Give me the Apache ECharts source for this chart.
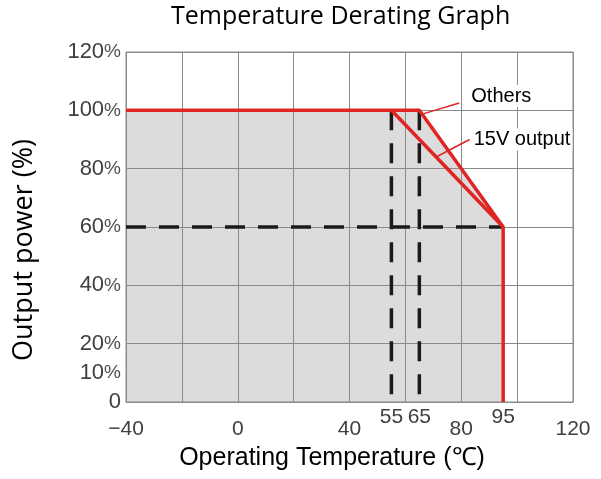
<!DOCTYPE html>
<html><head><meta charset="utf-8">
<script src="https://cdn.jsdelivr.net/npm/echarts@6/dist/echarts.min.js"></script>
<style>html,body{margin:0;padding:0;background:#fff}#c{width:601px;height:479px}</style>
</head><body><div id="c"></div>
<script>
const xTicksMain = [-40, 0, 40, 80, 120];
const xTicksMarked = [55, 65, 95];
const yTicks = [0, 10, 20, 40, 60, 80, 100, 120];
const othersCurve = [[-40, 100], [65, 100], [95, 60], [95, 0]];
const v15Curve = [[55, 100], [95, 60]];
const refLine60 = [[-40, 60], [95, 60]];
const refLine55 = [[55, 100], [55, 0]];
const refLine65 = [[65, 100], [65, 0]];
const othersLeader = [[66, 98.7], [79.3, 102.5]];
const v15Leader = [[71, 84], [83, 90]];

const RED = '#e02424';
const GRID = '#8a8a8a';
const chart = echarts.init(document.getElementById('c'), null, {renderer: 'canvas'});

function lineSeries(data, style, z, extra) {
  return Object.assign({type: 'line', data: data, symbol: 'none', lineStyle: style, z: z, silent: true, animation: false}, extra || {});
}

chart.setOption({
  animation: false,
  title: {
    text: 'Temperature Derating Graph', left: 171, top: 4, padding: 0,
    textStyle: {fontFamily: 'Open Sans', fontSize: 25, fontWeight: 'normal', color: '#000'}
  },
  grid: {left: 126, right: 28, top: 52, bottom: 77, show: true, borderColor: GRID, borderWidth: 1, z: 3},
  xAxis: [{
    type: 'value', min: -40, max: 120, interval: 20, z: 3,
    axisLine: {show: true, onZero: false, lineStyle: {color: GRID, width: 1}},
    axisTick: {show: false},
    splitLine: {show: true, lineStyle: {color: GRID, width: 1}},
    axisLabel: {customValues: xTicksMain, margin: 17, fontFamily: 'Liberation Sans', fontSize: 21, color: '#404040',
      formatter: v => v < 0 ? '\u2212' + Math.abs(v) : String(v)},
    name: 'Operating Temperature (\u2103)', nameLocation: 'middle', nameGap: 44,
    nameTextStyle: {fontFamily: 'Liberation Sans', fontSize: 25, color: '#000', padding: [0, 35, 0, 0]}
  }, {
    type: 'value', min: -40, max: 120, interval: 20, position: 'bottom', z: 3,
    axisLine: {show: false}, axisTick: {show: false}, splitLine: {show: false},
    axisLabel: {customValues: xTicksMarked, margin: 5, fontFamily: 'Liberation Sans', fontSize: 21, color: '#404040'}
  }],
  yAxis: {
    type: 'value', min: 0, max: 120, interval: 20, z: 3,
    axisLine: {show: true, lineStyle: {color: GRID, width: 1}},
    axisTick: {show: false},
    splitLine: {show: true, lineStyle: {color: GRID, width: 1}},
    axisLabel: {
      customValues: yTicks, margin: 5,
      formatter: v => v === 0 ? '{n|0}' : '{n|' + v + '}{p|%}',
      rich: {
        n: {fontFamily: 'Liberation Sans', fontSize: 22, color: '#404040'},
        p: {fontFamily: 'Liberation Sans', fontSize: 19, color: '#505050'}
      }
    },
    name: 'Output power (%)', nameLocation: 'middle', nameGap: 88, nameRotate: 90,
    nameTextStyle: {fontFamily: 'Open Sans', fontSize: 27, color: '#000', padding: [0, 46, 0, 0]}
  },
  series: [
    lineSeries(othersCurve, {width: 0, color: 'rgba(0,0,0,0)'}, 1, {areaStyle: {color: '#dcdcdc', opacity: 1}}),
    lineSeries(refLine60, {color: '#1a1a1a', width: 3.5, type: [20, 13]}, 5),
    lineSeries(refLine55, {color: '#1a1a1a', width: 3.5, type: [20, 13]}, 5),
    lineSeries(refLine65, {color: '#1a1a1a', width: 3.5, type: [20, 13]}, 5),
    lineSeries(othersLeader, {color: RED, width: 1.5}, 6, {endLabel: {show: true, formatter: 'Others', distance: 10, offset: [0, -7],
      fontFamily: 'Liberation Sans', fontSize: 20, color: '#000', backgroundColor: '#fff', padding: [1, 2]}}),
    lineSeries(v15Leader, {color: RED, width: 1.5}, 6, {endLabel: {show: true, formatter: '15V output', distance: 2, offset: [0, 0],
      fontFamily: 'Liberation Sans', fontSize: 20, color: '#000', backgroundColor: '#fff', padding: [1, 2]}}),
    lineSeries(othersCurve, {color: RED, width: 3.5}, 7),
    lineSeries(v15Curve, {color: RED, width: 3.5}, 7)
  ]
});
</script></body></html>
